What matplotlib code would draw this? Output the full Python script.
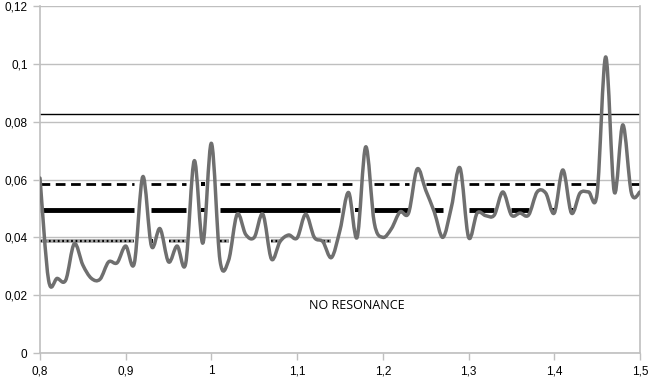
import numpy as np
import matplotlib
matplotlib.use("Agg")
import matplotlib.pyplot as plt
from matplotlib.path import Path
from matplotlib.patches import PathPatch

# frequency ratio, 0.80 .. 1.50 step 0.01
x = np.round(np.arange(0.80, 1.5001, 0.01), 2)
y = [0.0605, 0.0252, 0.0258, 0.0252, 0.0378, 0.0304, 0.0258, 0.0255, 0.0315, 0.0312,
     0.0370, 0.0310, 0.0610, 0.0370, 0.0430, 0.0315, 0.0370, 0.0310, 0.0665, 0.0380,
     0.0725, 0.0320, 0.0320, 0.0480, 0.0410, 0.0400, 0.0480, 0.0325, 0.0385, 0.0408,
     0.0398, 0.0480, 0.0400, 0.0385, 0.0330, 0.0425, 0.0555, 0.0400, 0.0713, 0.0450,
     0.0400, 0.0430, 0.0488, 0.0484, 0.0636, 0.0563, 0.0488, 0.0400, 0.0505, 0.0640,
     0.0400, 0.0484, 0.0475, 0.0477, 0.0557, 0.0477, 0.0484, 0.0477, 0.0557, 0.0553,
     0.0484, 0.0633, 0.0484, 0.0553, 0.0557, 0.0553, 0.1024, 0.0557, 0.0789, 0.0553,
     0.0557]
y = np.array(y)

# reference levels
level_thin = 0.0828
level_dash = 0.0585
level_thick = 0.0495
level_dot = 0.0387

fig = plt.figure(figsize=(6.54, 3.83), dpi=100)
ax = fig.add_axes([40/654, 30/383, 600/654, 347/383])
ax.set_xlim(0.8, 1.5)
ax.set_ylim(0, 0.12)

grid_c = '#bfbfbf'
ax.set_yticks(np.arange(0, 0.1201, 0.02))
ax.set_xticks(np.arange(0.8, 1.5001, 0.1))
ax.yaxis.grid(True, color=grid_c, lw=1)
ax.set_axisbelow(True)
for s in ['top']:
    ax.spines[s].set_visible(False)
for s in ['left', 'right', 'bottom']:
    ax.spines[s].set_color(grid_c)
    ax.spines[s].set_linewidth(1.2)
ax.tick_params(axis='both', color=grid_c, length=5, width=1, labelsize=8.5, pad=4)

def fmt(v):
    s = ('%.2f' % v).rstrip('0').rstrip('.')
    return s.replace('.', ',')

ax.set_yticklabels([fmt(v) for v in ax.get_yticks()], family='Liberation Sans')
ax.set_xticklabels([fmt(v) for v in ax.get_xticks()], family='Liberation Sans')

# thin full line
ax.plot([0.8, 1.5], [level_thin, level_thin], color='black', lw=1.0)

def level_line(level, **kw):
    keep = y <= level
    keep[0] = True
    vals = np.where(keep, level, np.nan)
    ax.plot(x, vals, solid_capstyle='butt', dash_capstyle='butt', **kw)
    # single points between gaps
    prev = np.r_[False, keep[:-1]]
    nxt = np.r_[keep[1:], False]
    iso = keep & ~prev & ~nxt
    ax.plot(x[iso], np.full(iso.sum(), level), 's', color='black', ms=3.5, mew=0)

level_line(level_dash, color='black', lw=2.0, ls=(0, (3.5, 2.0)))
level_line(level_thick, color='black', lw=3.5)
level_line(level_dot, color='#a0a0a0', lw=2.6)
level_line(level_dot, color='black', lw=1.6, ls=(0, (0.8, 1.2)))

# smoothed curve (Bezier through the points)
pts = np.column_stack([x, y])
n = len(pts)
verts = [pts[0]]
codes = [Path.MOVETO]
for i in range(n - 1):
    p0 = pts[i - 1] if i > 0 else pts[i]
    p1 = pts[i]
    p2 = pts[i + 1]
    p3 = pts[i + 2] if i + 2 < n else pts[i + 1]
    c1 = p1 + (p2 - p0) / 6.0
    c2 = p2 - (p3 - p1) / 6.0
    verts += [c1, c2, p2]
    codes += [Path.CURVE4] * 3
ax.add_patch(PathPatch(Path(verts, codes), fill=False, edgecolor='#6f6f6f', lw=2.5,
                       capstyle='round', joinstyle='round', zorder=5))

ax.text(1.17, 0.0165, 'NO RESONANCE', ha='center', va='center', fontsize=9,
        family='Open Sans')

fig.savefig('out.png', dpi=100)
